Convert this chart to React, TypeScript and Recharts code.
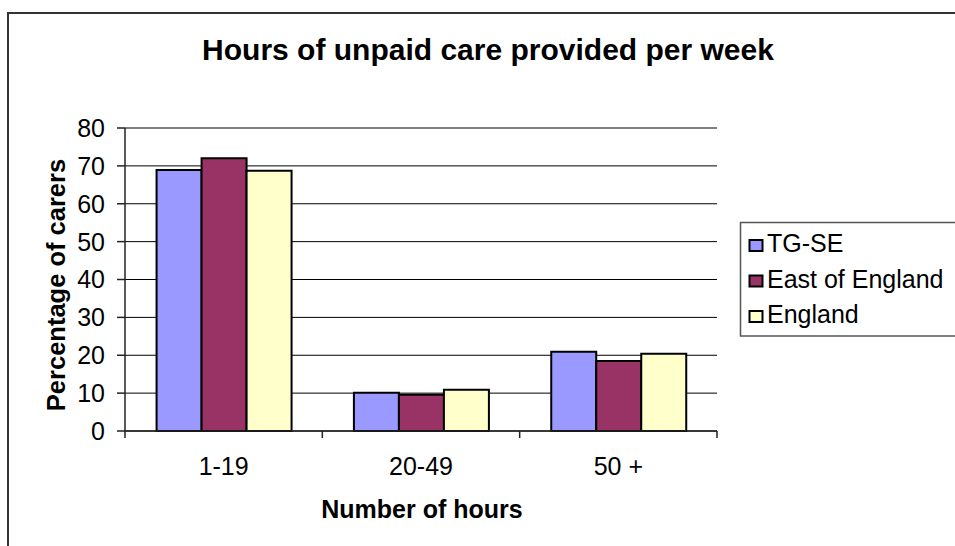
import React from 'react';
import { BarChart, Bar, XAxis, YAxis, CartesianGrid } from 'recharts';

// ---- data ----
const CATEGORIES = ['1-19', '20-49', '50 +'];
const TG_SE = [68.9, 10.1, 20.9];
const EAST_OF_ENGLAND = [72.0, 9.6, 18.5];
const ENGLAND = [68.7, 10.9, 20.4];
const Y_TICKS = [0, 10, 20, 30, 40, 50, 60, 70, 80];

const SERIES = [
  { key: 'tgse', name: 'TG-SE', values: TG_SE, color: '#9999FF' },
  { key: 'east', name: 'East of England', values: EAST_OF_ENGLAND, color: '#993366' },
  { key: 'england', name: 'England', values: ENGLAND, color: '#FFFFCC' },
];

const chartData = CATEGORIES.map((cat, i) => {
  const row: Record<string, string | number> = { cat };
  SERIES.forEach(s => { row[s.key] = s.values[i]; });
  return row;
});

// ---- layout ----
const W = 955;
const H = 546;
const PLOT_LEFT = 125;
const PLOT_RIGHT = 717;
const PLOT_TOP = 128;
const PLOT_BOTTOM = 431;
const X_AXIS_H = 60;
const Y_AXIS_W = 80;
const BAND = (PLOT_RIGHT - PLOT_LEFT) / CATEGORIES.length;
const FONT = '"Liberation Sans", Arial, sans-serif';
const AXIS = '#222';

// Excel puts the category ticks between the groups, not under them
const CategoryTick = (props: any) => {
  const { x, payload, index } = props;
  const left = x - BAND / 2;
  const right = x + BAND / 2;
  return (
    <g>
      <line x1={left} x2={left} y1={PLOT_BOTTOM} y2={PLOT_BOTTOM + 7} stroke={AXIS} strokeWidth={1.5} />
      {index === CATEGORIES.length - 1 && (
        <line x1={right} x2={right} y1={PLOT_BOTTOM} y2={PLOT_BOTTOM + 7} stroke={AXIS} strokeWidth={1.5} />
      )}
      <text x={x} y={PLOT_BOTTOM + 44} textAnchor="middle" fontSize={25} fontFamily={FONT} fill="#000">
        {payload.value}
      </text>
    </g>
  );
};

const App = () => {
  return (
    <div style={{ position: 'absolute', left: 0, top: 0, width: W, height: H, overflow: 'hidden', background: '#fff' }}>
      {/* outer chart frame, runs off the right and bottom edges */}
      <div style={{ position: 'absolute', left: 7, top: 12, width: 1000, height: 600, border: '2px solid #333' }} />

      <div style={{ position: 'absolute', left: 0, top: 0 }}>
        <BarChart
          width={W}
          height={H}
          data={chartData}
          margin={{ top: PLOT_TOP, right: W - PLOT_RIGHT, bottom: H - PLOT_BOTTOM - X_AXIS_H, left: PLOT_LEFT - Y_AXIS_W }}
          barGap={0}
          barCategoryGap="16%"
        >
          <CartesianGrid xAxisId="bottom" yAxisId="left" vertical={false} stroke="#000" strokeWidth={1} />
          <XAxis
            xAxisId="bottom"
            dataKey="cat"
            height={X_AXIS_H}
            interval={0}
            tickLine={false}
            axisLine={{ stroke: AXIS, strokeWidth: 1.5 }}
            tick={<CategoryTick />}
          />
          <XAxis
            xAxisId="top"
            dataKey="cat"
            orientation="top"
            height={0}
            tick={false}
            tickLine={false}
            axisLine={{ stroke: '#888', strokeWidth: 2 }}
          />
          <YAxis
            yAxisId="left"
            domain={[0, 80]}
            ticks={Y_TICKS}
            interval={0}
            width={Y_AXIS_W}
            tickSize={8}
            tickMargin={12}
            axisLine={{ stroke: AXIS, strokeWidth: 1.5 }}
            tickLine={{ stroke: AXIS, strokeWidth: 1.5 }}
            tick={{ fontSize: 25, fill: '#000', fontFamily: FONT }}
          />
          <YAxis
            yAxisId="right"
            orientation="right"
            domain={[0, 80]}
            width={0}
            tick={false}
            tickLine={false}
            axisLine={{ stroke: '#888', strokeWidth: 2 }}
          />
          {SERIES.map(s => (
            <Bar
              key={s.key}
              xAxisId="bottom"
              yAxisId="left"
              dataKey={s.key}
              name={s.name}
              fill={s.color}
              stroke="#000"
              strokeWidth={2}
              isAnimationActive={false}
            />
          ))}
        </BarChart>
      </div>

      {/* titles and legend */}
      <svg width={W} height={H} style={{ position: 'absolute', left: 0, top: 0, pointerEvents: 'none' }}>
        <text x={488} y={60} textAnchor="middle" fontSize={30} fontWeight="bold" fontFamily={FONT} fill="#000">
          Hours of unpaid care provided per week
        </text>
        <text
          transform="translate(65, 285) rotate(-90)"
          textAnchor="middle"
          fontSize={25.5}
          fontWeight="bold"
          fontFamily={FONT}
          fill="#000"
        >
          Percentage of carers
        </text>
        <text x={422} y={518} textAnchor="middle" fontSize={25} fontWeight="bold" fontFamily={FONT} fill="#000">
          Number of hours
        </text>

        <rect x={740.5} y={222.5} width={300} height={113.5} fill="#fff" stroke="#555" strokeWidth={1.5} />
        {SERIES.map((s, i) => {
          const base = 252 + i * 35.5;
          return (
            <g key={s.key}>
              <rect x={749.5} y={base - 12} width={13} height={11} fill={s.color} stroke="#000" strokeWidth={2} />
              <text x={767} y={base} fontSize={25} fontFamily={FONT} fill="#000">
                {s.name}
              </text>
            </g>
          );
        })}
      </svg>
    </div>
  );
};

export default App;
